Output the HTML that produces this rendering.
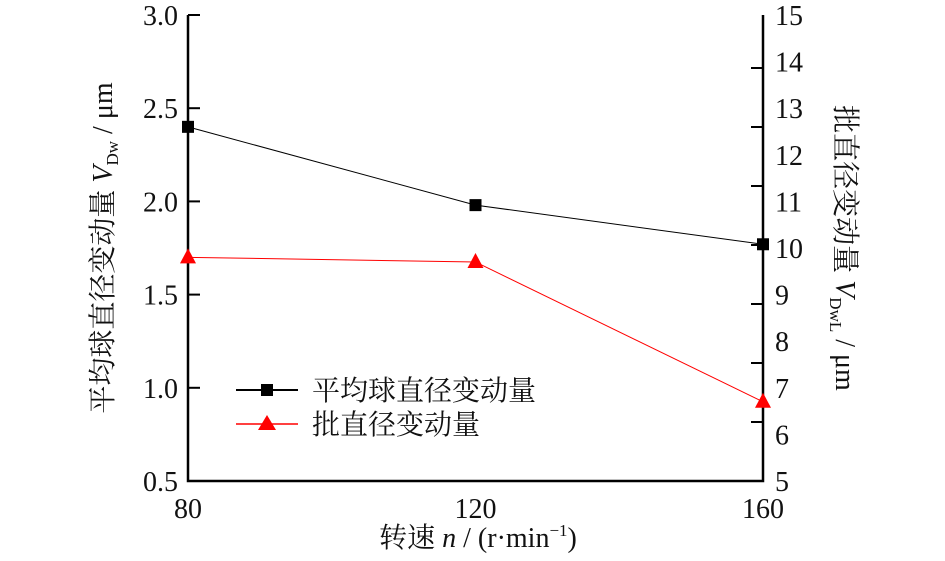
<!DOCTYPE html>
<html><head><meta charset="utf-8"><style>
body{margin:0;background:#fff}
svg text{font-family:"Liberation Serif","Noto Serif CJK SC",serif;fill:#111}
</style></head><body>
<svg width="945" height="556" viewBox="0 0 945 556">
<g id="axes"></g>
<g id="marks"></g>
</svg>
<script>
const categories=[80,120,160];
const seriesAvg=[2.40,1.98,1.77];
const seriesBatch=[9.8,9.7,6.7];
const leftTicks=["0.5","1.0","1.5","2.0","2.5","3.0"];
const rightTicks=["5","6","7","8","9","10","11","12","13","14","15"];
const xTicks=["80","120","160"];
const X0=188,X1=763,Y0=481,Y1=15;
const xs=v=>X0+(v-80)/80*(X1-X0);
const yl=v=>Y0-(v-0.5)/2.5*(Y0-Y1);
const yr=v=>Y0-(v-5)/10*(Y0-Y1);
const NS="http://www.w3.org/2000/svg";
const ax=document.getElementById('axes'),mk=document.getElementById('marks');
function el(t,a,p){const e=document.createElementNS(NS,t);for(const k in a)e.setAttribute(k,a[k]);p.appendChild(e);return e;}
function txt(s,a,p){const e=el('text',a,p);e.textContent=s;return e;}
let e;
e=el('path',{d:`M${X0},${Y1}V${Y0}H${X1}V${Y1}`,fill:'none',stroke:'#000','stroke-width':2.5},ax);


leftTicks.forEach(t=>{const y=yl(+t);
 e=el('line',{x1:X0,x2:X0+12,y1:y,y2:y,stroke:'#000','stroke-width':2},ax);
 
 
 e=txt(t,{x:X0-10,y:y+10,'text-anchor':'end','font-size':28},ax);
 
 });
rightTicks.forEach(t=>{const y=yr(+t);
 e=txt(t,{x:X1+12,y:y+10,'font-size':28},ax);
 
 });
for(let k=1;k<8;k++){const y=Y0-59*k;
 e=el('line',{x1:X1-12,x2:X1,y1:y,y2:y,stroke:'#000','stroke-width':2},ax);
 
 }
xTicks.forEach(t=>{const x=xs(+t);
 e=txt(t,{x:x,y:Y0+37,'text-anchor':'middle','font-size':28},ax);
 
 });
e=txt('',{x:478,y:547,'text-anchor':'middle','font-size':28},ax);
e.innerHTML='转速 <tspan font-style="italic">n</tspan> / (r·min<tspan dy="-11" font-size="17">−1</tspan><tspan dy="11">)</tspan>';


e=txt('',{transform:'translate(112,248) rotate(-90)','text-anchor':'middle','font-size':28},ax);
e.innerHTML='平均球直径变动量 <tspan font-style="italic">V</tspan><tspan font-size="17" dy="6">Dw</tspan><tspan dy="-6"> / μm</tspan>';


e=txt('',{transform:'translate(836,248) rotate(90)','text-anchor':'middle','font-size':28},ax);
e.innerHTML='批直径变动量 <tspan font-style="italic">V</tspan><tspan font-size="17" dy="6">DwL</tspan><tspan dy="-6"> / μm</tspan>';


e=el('polyline',{points:categories.map((c,i)=>xs(c)+','+yl(seriesAvg[i])).join(' '),fill:'none',stroke:'#000','stroke-width':1},mk);


categories.forEach((c,i)=>{e=el('rect',{x:xs(c)-6,y:yl(seriesAvg[i])-6,width:12,height:12,fill:'#000'},mk);
 
 });
e=el('polyline',{points:categories.map((c,i)=>xs(c)+','+yr(seriesBatch[i])).join(' '),fill:'none',stroke:'#f00','stroke-width':1},mk);


categories.forEach((c,i)=>{const x=xs(c),y=yr(seriesBatch[i]);
 e=el('polygon',{points:`${x},${y-9} ${x-8},${y+6} ${x+8},${y+6}`,fill:'#f00'},mk);
 
 });
e=el('g',{},mk);


const lg=e;
el('line',{x1:236,x2:298,y1:390,y2:390,stroke:'#000','stroke-width':2},lg);
el('rect',{x:261,y:384,width:12,height:12,fill:'#000'},lg);
e=txt('平均球直径变动量',{x:312,y:400,'font-size':28},lg);


el('line',{x1:236,x2:298,y1:424,y2:424,stroke:'#f00','stroke-width':1.5},lg);
el('polygon',{points:'267,415 258,430 276,430',fill:'#f00'},lg);
e=txt('批直径变动量',{x:312,y:434,'font-size':28},lg);


</script>
</body></html>
